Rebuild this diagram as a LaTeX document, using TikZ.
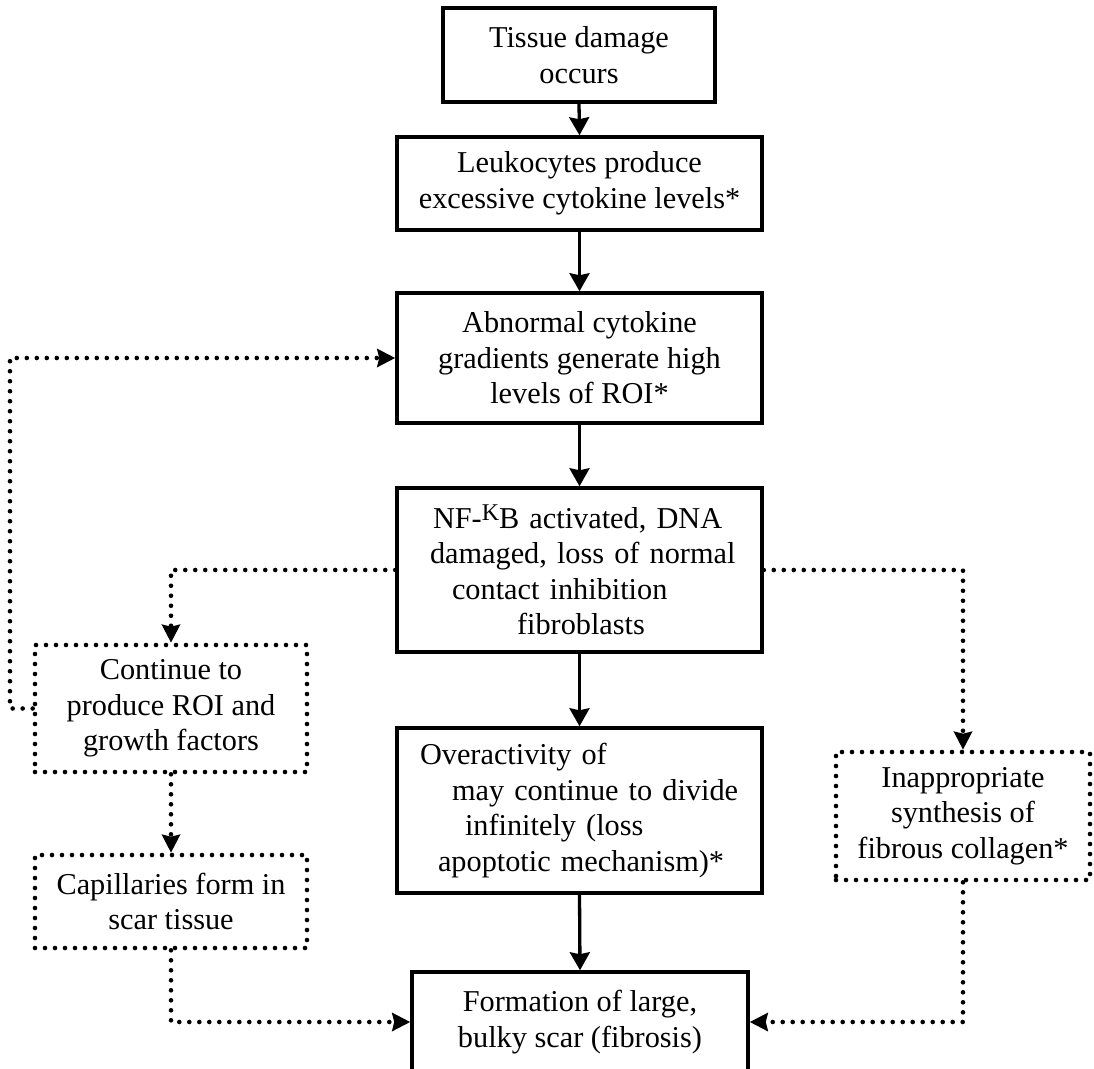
\documentclass[tikz,border=0pt]{standalone}
\usepackage{fontspec}
\setmainfont{Liberation Serif}
\usetikzlibrary{arrows.meta}
\begin{document}
\begin{tikzpicture}[x=1pt,y=-1pt,
  every node/.style={font=\fontsize{30.3}{35.5}\selectfont, inner sep=0pt},
  solidbox/.style={draw, line width=3.5pt, rectangle, align=center},
  dotbox/.style={draw, line width=4.6pt, dash pattern=on 0pt off 10pt, line cap=round, rectangle, align=center},
  arr/.style={line width=3.3pt, -{Stealth[length=18pt,width=20pt,inset=2pt]}},
  dotarr/.style={line width=4.6pt, dash pattern=on 0pt off 10pt, line cap=round, -{Stealth[length=18pt,width=18pt,inset=2pt]}},
]
\useasboundingbox (0,0) rectangle (1094,1068);
\clip (0,0) rectangle (1094,1068);

% main chain
\node[solidbox, minimum width=272pt, minimum height=94pt] (b1) at (579,55) {Tissue damage\\occurs};
\node[solidbox, minimum width=365pt, minimum height=93pt] (b2) at (579.5,183.5) {Leukocytes produce\\excessive cytokine levels*};
\node[solidbox, minimum width=365pt, minimum height=130pt] (b3) at (579.5,358) {Abnormal cytokine\\gradients generate high\\levels of ROI*};
\node[solidbox, align=left, text width=365pt, minimum height=164pt] (b4) at (579.5,570)
  {\hspace*{36pt}NF-\raisebox{8pt}{\fontsize{24}{24}\selectfont K}B activated, DNA\\
   \hspace*{33pt}damaged, loss of normal\\
   \hspace*{55pt}contact inhibition\\
   \hspace*{120pt}fibroblasts};
\node[solidbox, align=left, text width=365pt, minimum height=165pt] (b5) at (579.5,810.5)
  {\hspace*{23pt}Overactivity of\\
   \hspace*{55pt}may continue to divide\\
   \hspace*{68pt}infinitely (loss\\
   \hspace*{41pt}apoptotic mechanism)*};
\node[solidbox, minimum width=336pt, minimum height=100pt] (b6) at (580,1022) {Formation of large,\\bulky scar (fibrosis)};

% side branches
\node[dotbox, minimum width=272pt, minimum height=127pt] (cont) at (171,708.5) {Continue to\\produce ROI and\\growth factors};
\node[dotbox, minimum width=272pt, minimum height=93pt] (cap) at (171,901.5) {Capillaries form in\\scar tissue};
\node[dotbox, minimum width=254pt, minimum height=128pt] (inap) at (963,816) {Inappropriate\\synthesis of\\fibrous collagen*};

% solid connectors
\draw[arr] (b1.south) -- (b2.north);
\draw[arr] (b2.south) -- (b3.north);
\draw[arr] (b3.south) -- (b4.north);
\draw[arr] (b4.south) -- (b5.north);
\draw[arr] (b5.south) -- (b6.north);

% dotted connectors
\draw[dotarr] (b4.west) -| (cont.north);
\draw[dotarr] (b4.east) -| (inap.north);
\draw[dotarr] (cont.south) -- (cap.north);
\draw[dotarr] (cap.south) |- (b6.west);
\draw[dotarr] (inap.south) |- (b6.east);
\coordinate (loopx) at (10,706);
\draw[dotarr] (cont.west) -- (loopx |- cont.west) |- (b3.west);
\end{tikzpicture}
\end{document}
